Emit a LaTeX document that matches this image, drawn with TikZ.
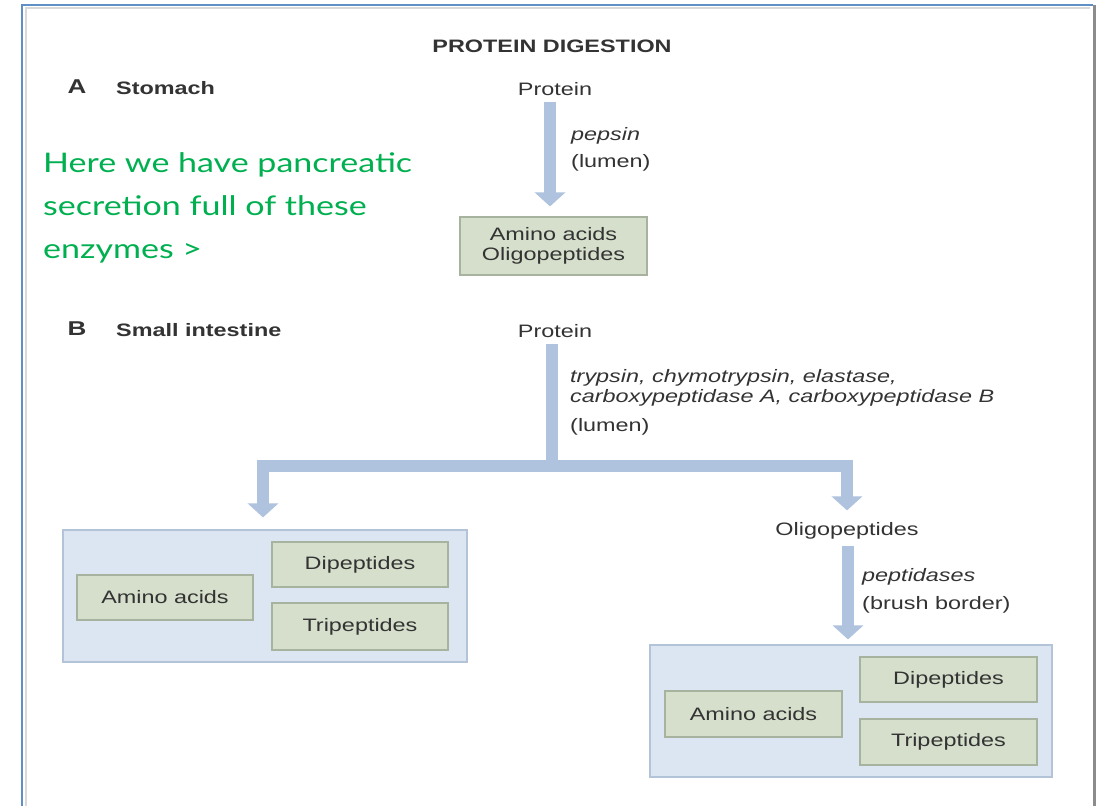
\documentclass[tikz,border=0pt]{standalone}
\usepackage{fontspec}
\setmainfont{Liberation Sans}[FakeStretch=1.3]
\newfontfamily\greenfont{Lato}[FakeStretch=1.26]
\usetikzlibrary{arrows.meta}
\definecolor{txtc}{HTML}{333333}
\definecolor{arrowc}{HTML}{AFC3DE}
\definecolor{outerfill}{HTML}{DCE6F2}
\definecolor{outerdraw}{HTML}{B4C4D8}
\definecolor{innerfill}{HTML}{D5DFCB}
\definecolor{innerdraw}{HTML}{A8B39F}
\definecolor{greentxt}{HTML}{00B050}
\definecolor{framec}{HTML}{5F8FC4}
\begin{document}
\begin{tikzpicture}[x=1pt,y=-1pt,
  txt/.style={inner sep=0pt, text=txtc, font=\fontsize{18}{20}\selectfont},
  bold/.style={txt, font=\fontsize{18}{20}\selectfont\bfseries},
  ital/.style={txt, font=\fontsize{18}{20}\selectfont\itshape, anchor=west},
  outerbox/.style={draw=outerdraw, fill=outerfill, line width=1.2pt, inner sep=0pt},
  innerbox/.style={draw=innerdraw, fill=innerfill, line width=1.2pt, inner sep=0pt, text=txtc, font=\fontsize{18}{20}\selectfont, align=center},
  shaft/.style={draw=arrowc, line width=12pt, line join=miter},
  fat/.style={shaft, -{Triangle[length=14pt,width=30pt]}},
  green/.style={inner sep=0pt, anchor=base west, text=greentxt, font=\greenfont\fontsize{27}{30}\selectfont}
]
\useasboundingbox (0,0) rectangle (1099,805);
\fill[white] (0,0) rectangle (1099,805);
% frame
\draw[black!15, line width=2.5pt] (26,810) -- (26,8) -- (1090,8);
\draw[framec, line width=1.6pt] (22,810) -- (22,5) -- (1093,5);
\draw[black!45, line width=3pt] (1094,5) -- (1094,810);

% title and section labels
\node[bold] (title) at (552,46) {PROTEIN DIGESTION};
\node[txt, font=\fontsize{20}{22}\selectfont\bfseries] (la) at (77,87) {A};
\node[bold, anchor=west] (stomach) at (116,88) {Stomach};
\node[txt, font=\fontsize{20}{22}\selectfont\bfseries] (lb) at (77,329) {B};
\node[bold, anchor=west] (small) at (116,330) {Small intestine};

% stomach
\node[txt] (protA) at (555,89) {Protein};
\node[innerbox, minimum width=187pt, minimum height=58pt] (boxA) at (553.5,246) {Amino acids\\Oligopeptides};
\node[ital] (pepsin) at (571,136) {pepsin};
\node[txt, anchor=west] (lumenA) at (571,163) {(lumen)};
\draw[fat, shorten <=6pt, shorten >=10pt] (protA.south -| 550,0) -- (boxA.north -| 550,0);

% green note
\node[green] (g1) at (43,172) {Here we have pancreatic};
\node[green] (g2) at (43,215) {secretion full of these};
\node[green] (g3) at (43,258) {enzymes >};

% small intestine
\node[txt] (protB) at (555,331) {Protein};
\node[ital] (enz1) at (570,378) {trypsin, chymotrypsin, elastase,};
\node[ital] (enz2) at (570,398) {carboxypeptidase A, carboxypeptidase B};
\node[txt, anchor=west] (lumenB) at (570,427) {(lumen)};
\coordinate (j) at (552,465.5);
\draw[shaft, shorten <=6pt] (protB.south -| j) -- (j);

% left result
\node[outerbox, minimum width=404pt, minimum height=132pt] (bigL) at (265,596) {};
\node[innerbox, minimum width=176pt, minimum height=45pt] (aaL) at (165,597.5) {Amino acids};
\node[innerbox, minimum width=176pt, minimum height=45pt] (dipL) at (360,564.5) {Dipeptides};
\node[innerbox, minimum width=176pt, minimum height=47pt] (triL) at (360,626.5) {Tripeptides};
\draw[fat, shorten >=12pt] (j) -| ([xshift=-2pt]bigL.north);

% right branch
\node[txt] (oligo) at (847,531) {Oligopeptides};
\draw[fat, shorten >=12pt] (j) -| (oligo.north);
\node[ital] (pept) at (862,577) {peptidases};
\node[txt, anchor=west] (brush) at (862,605) {(brush border)};

\node[outerbox, minimum width=402pt, minimum height=132pt] (bigR) at (851,711) {};
\node[innerbox, minimum width=177pt, minimum height=46pt] (aaR) at (753.5,714) {Amino acids};
\node[innerbox, minimum width=177pt, minimum height=45pt] (dipR) at (948.5,679.5) {Dipeptides};
\node[innerbox, minimum width=177pt, minimum height=46pt] (triR) at (948.5,742) {Tripeptides};
\draw[fat, shorten <=6pt, shorten >=5pt] (oligo.south -| 848,0) -- (bigR.north -| 848,0);
\end{tikzpicture}
\end{document}
